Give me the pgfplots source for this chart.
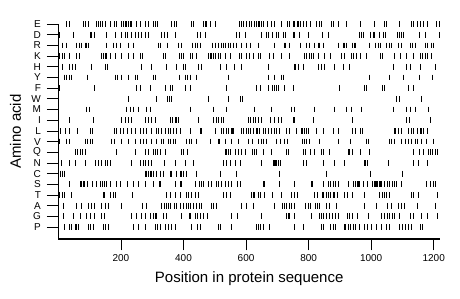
\documentclass[border=0pt]{standalone}
\usepackage{fontspec}
\setmainfont{Liberation Sans}
\usepackage{pgfplots}
\pgfplotsset{compat=1.18}
\begin{document}
\begin{tikzpicture}
\path (0,0) rectangle (460pt,299pt);
\begin{axis}[
 at={(58.4pt,60pt)}, anchor=south west,
 scale only axis, width=381.6pt, height=214.9pt,
 xmin=0, xmax=1220, ymin=-1.12, ymax=19,
 axis x line*=bottom, axis y line*=left,
 axis line style={line width=1.2pt, -},
 tick align=outside, major tick length=11.5pt,
 xtick style={draw=black, solid, line width=0.8pt},
 ytick style={draw=black, solid, line width=0.8pt},
 xtick={200,400,600,800,1000,1200},
 ytick={0,...,19},
 yticklabels={P,G,A,T,S,C,N,Q,V,L,I,M,W,F,Y,H,K,R,D,E},
 scaled ticks=false,
 clip=false,
 /pgf/number format/assume math mode=true,
 /pgf/number format/set thousands separator={},
 tick label style={font=\fontsize{10}{12}\selectfont},
 yticklabel style={xshift=-2.5pt},
 xlabel={Position in protein sequence}, ylabel={Amino acid},
 every axis x label/.style={at={(axis description cs:0.5,-0.2047)}, anchor=base, font=\fontsize{15}{18}\selectfont},
 every axis y label/.style={at={(axis description cs:-0.1127,0.5)}, anchor=center, rotate=90, font=\fontsize{15}{18}\selectfont},
 bars/.style={only marks, mark=|, mark size=2.9pt, mark options={line width=0.95pt, black}},
]
% E
\addplot[bars] coordinates {(26,19)(37,19)(80,19)(87,19)(96,19)(122,19)(127,19)(133,19)(140,19)(151,19)(165,19)(179,19)(186,19)(202,19)(207,19)(213,19)(218,19)(223,19)(229,19)(234,19)(250,19)(261,19)(277,19)(289,19)(303,19)(309,19)(316,19)(362,19)(370,19)(376,19)(426,19)(431,19)(463,19)(469,19)(474,19)(487,19)(501,19)(578,19)(586,19)(593,19)(602,19)(610,19)(617,19)(626,19)(633,19)(639,19)(644,19)(649,19)(655,19)(668,19)(681,19)(690,19)(713,19)(732,19)(740,19)(750,19)(756,19)(764,19)(769,19)(775,19)(782,19)(793,19)(807,19)(825,19)(836,19)(841,19)(873,19)(878,19)(894,19)(921,19)(966,19)(1012,19)(1041,19)(1049,19)(1092,19)(1129,19)(1134,19)(1147,19)(1156,19)(1166,19)(1179,19)(1209,19)(1217,19)};
% D
\addplot[bars] coordinates {(2,18)(48,18)(101,18)(106,18)(114,18)(154,18)(181,18)(202,18)(213,18)(220,18)(234,18)(245,18)(255,18)(266,18)(277,18)(287,18)(330,18)(338,18)(348,18)(373,18)(444,18)(453,18)(469,18)(570,18)(578,18)(597,18)(649,18)(665,18)(673,18)(683,18)(697,18)(703,18)(718,18)(726,18)(750,18)(756,18)(772,18)(798,18)(843,18)(862,18)(964,18)(969,18)(975,18)(998,18)(1007,18)(1012,18)(1026,18)(1038,18)(1047,18)(1083,18)(1090,18)(1097,18)(1102,18)(1153,18)(1175,18)(1217,18)};
% R
\addplot[bars] coordinates {(12,17)(26,17)(58,17)(66,17)(74,17)(85,17)(90,17)(96,17)(154,17)(175,17)(186,17)(197,17)(223,17)(239,17)(320,17)(325,17)(348,17)(384,17)(394,17)(429,17)(437,17)(444,17)(455,17)(493,17)(501,17)(511,17)(522,17)(527,17)(533,17)(543,17)(549,17)(559,17)(570,17)(586,17)(602,17)(615,17)(639,17)(692,17)(722,17)(726,17)(740,17)(775,17)(793,17)(804,17)(820,17)(830,17)(836,17)(846,17)(894,17)(910,17)(916,17)(921,17)(940,17)(945,17)(951,17)(996,17)(1015,17)(1022,17)(1030,17)(1049,17)(1060,17)(1065,17)(1086,17)(1097,17)(1124,17)(1132,17)(1143,17)(1172,17)(1179,17)(1193,17)(1200,17)};
% K
\addplot[bars] coordinates {(5,16)(12,16)(21,16)(37,16)(58,16)(66,16)(138,16)(143,16)(149,16)(154,16)(165,16)(181,16)(202,16)(223,16)(239,16)(261,16)(268,16)(336,16)(341,16)(387,16)(394,16)(400,16)(421,16)(429,16)(440,16)(479,16)(485,16)(490,16)(495,16)(501,16)(511,16)(519,16)(533,16)(549,16)(578,16)(586,16)(602,16)(612,16)(623,16)(639,16)(647,16)(676,16)(687,16)(713,16)(740,16)(786,16)(793,16)(804,16)(809,16)(814,16)(830,16)(852,16)(871,16)(905,16)(916,16)(937,16)(943,16)(953,16)(966,16)(985,16)(1030,16)(1036,16)(1073,16)(1094,16)(1113,16)(1134,16)(1156,16)(1164,16)(1172,16)(1179,16)(1193,16)};
% H
\addplot[bars] coordinates {(12,15)(37,15)(45,15)(53,15)(106,15)(149,15)(156,15)(266,15)(298,15)(346,15)(376,15)(400,15)(405,15)(447,15)(458,15)(517,15)(538,15)(562,15)(586,15)(673,15)(754,15)(758,15)(766,15)(782,15)(832,15)(841,15)(852,15)(884,15)(910,15)(930,15)(1070,15)(1113,15)(1126,15)(1156,15)(1204,15)};
% Y
\addplot[bars] coordinates {(19,14)(26,14)(37,14)(42,14)(93,14)(181,14)(189,14)(202,14)(223,14)(245,14)(253,14)(303,14)(309,14)(387,14)(405,14)(412,14)(421,14)(442,14)(543,14)(673,14)(692,14)(713,14)(718,14)(996,14)(1058,14)(1104,14)(1153,14)(1196,14)};
% F
\addplot[bars] coordinates {(2,13)(5,13)(115,13)(250,13)(261,13)(293,13)(341,13)(359,13)(365,13)(405,13)(421,13)(538,13)(633,13)(647,13)(673,13)(683,13)(692,13)(697,13)(703,13)(724,13)(750,13)(900,13)(980,13)(985,13)(1036,13)(1041,13)(1118,13)(1134,13)};
% W
\addplot[bars] coordinates {(223,12)(314,12)(348,12)(355,12)(362,12)(479,12)(543,12)(581,12)(589,12)(1081,12)(1090,12)(1161,12)};
% M
\addplot[bars] coordinates {(90,11)(98,11)(218,11)(229,11)(239,11)(255,11)(282,11)(293,11)(421,11)(495,11)(538,11)(626,11)(681,11)(745,11)(754,11)(818,11)(884,11)(921,11)(937,11)(969,11)(1070,11)(1113,11)(1124,11)(1140,11)(1182,11)};
% I
\addplot[bars] coordinates {(37,10)(111,10)(202,10)(213,10)(223,10)(234,10)(277,10)(287,10)(298,10)(309,10)(357,10)(365,10)(373,10)(378,10)(384,10)(447,10)(495,10)(506,10)(511,10)(522,10)(527,10)(607,10)(615,10)(623,10)(630,10)(639,10)(649,10)(679,10)(690,10)(705,10)(713,10)(750,10)(756,10)(814,10)(940,10)(1113,10)(1122,10)(1190,10)};
% L
\addplot[bars] coordinates {(8,9)(24,9)(37,9)(61,9)(101,9)(108,9)(179,9)(186,9)(200,9)(207,9)(221,9)(234,9)(245,9)(261,9)(271,9)(282,9)(298,9)(314,9)(320,9)(330,9)(341,9)(352,9)(357,9)(368,9)(378,9)(389,9)(421,9)(453,9)(458,9)(501,9)(522,9)(527,9)(538,9)(543,9)(554,9)(557,9)(561,9)(586,9)(591,9)(602,9)(607,9)(615,9)(623,9)(633,9)(636,9)(644,9)(655,9)(662,9)(671,9)(681,9)(690,9)(697,9)(708,9)(729,9)(740,9)(761,9)(777,9)(779,9)(786,9)(793,9)(800,9)(825,9)(849,9)(878,9)(896,9)(940,9)(951,9)(966,9)(972,9)(1073,9)(1079,9)(1086,9)(1097,9)(1118,9)(1129,9)(1136,9)(1147,9)(1156,9)(1161,9)(1166,9)(1179,9)};
% V
\addplot[bars] coordinates {(2,8)(5,8)(26,8)(37,8)(85,8)(93,8)(101,8)(108,8)(170,8)(178,8)(202,8)(223,8)(245,8)(261,8)(271,8)(282,8)(298,8)(314,8)(330,8)(336,8)(352,8)(359,8)(368,8)(373,8)(410,8)(419,8)(426,8)(442,8)(485,8)(511,8)(515,8)(533,8)(554,8)(575,8)(607,8)(619,8)(641,8)(649,8)(655,8)(665,8)(697,8)(711,8)(722,8)(732,8)(779,8)(786,8)(793,8)(804,8)(836,8)(894,8)(934,8)(985,8)(991,8)(1060,8)(1065,8)(1076,8)(1097,8)(1111,8)(1118,8)(1129,8)(1140,8)(1147,8)(1161,8)(1177,8)(1200,8)};
% Q
\addplot[bars] coordinates {(53,7)(61,7)(69,7)(76,7)(85,7)(186,7)(245,7)(277,7)(287,7)(303,7)(309,7)(316,7)(325,7)(341,7)(394,7)(400,7)(412,7)(533,7)(538,7)(543,7)(549,7)(565,7)(575,7)(586,7)(597,7)(619,7)(626,7)(633,7)(655,7)(681,7)(729,7)(737,7)(782,7)(790,7)(807,7)(820,7)(841,7)(846,7)(868,7)(927,7)(932,7)(940,7)(966,7)(996,7)(1136,7)(1153,7)(1168,7)(1182,7)(1190,7)(1196,7)(1204,7)(1211,7)};
% N
\addplot[bars] coordinates {(10,6)(37,6)(56,6)(85,6)(117,6)(127,6)(138,6)(149,6)(156,6)(165,6)(234,6)(261,6)(271,6)(279,6)(287,6)(298,6)(338,6)(373,6)(405,6)(431,6)(527,6)(536,6)(549,6)(565,6)(581,6)(649,6)(687,6)(690,6)(694,6)(697,6)(703,6)(711,6)(782,6)(793,6)(849,6)(884,6)(916,6)(977,6)(983,6)(987,6)(1054,6)(1134,6)(1150,6)(1179,6)};
% C
\addplot[bars] coordinates {(8,5)(12,5)(19,5)(277,5)(282,5)(287,5)(293,5)(298,5)(303,5)(314,5)(325,5)(336,5)(357,5)(362,5)(378,5)(389,5)(394,5)(400,5)(410,5)(442,5)(517,5)(570,5)(708,5)(857,5)(998,5)(1100,5)};
% S
\addplot[bars] coordinates {(37,4)(69,4)(74,4)(80,4)(83,4)(93,4)(108,4)(122,4)(133,4)(140,4)(147,4)(154,4)(165,4)(186,4)(200,4)(221,4)(239,4)(255,4)(277,4)(303,4)(323,4)(327,4)(373,4)(389,4)(394,4)(437,4)(451,4)(458,4)(463,4)(479,4)(490,4)(506,4)(511,4)(522,4)(533,4)(543,4)(554,4)(572,4)(581,4)(655,4)(660,4)(708,4)(756,4)(809,4)(812,4)(846,4)(862,4)(871,4)(878,4)(886,4)(894,4)(927,4)(943,4)(951,4)(955,4)(960,4)(964,4)(975,4)(987,4)(1004,4)(1009,4)(1013,4)(1017,4)(1021,4)(1026,4)(1030,4)(1034,4)(1044,4)(1051,4)(1060,4)(1068,4)(1073,4)(1081,4)(1097,4)(1177,4)(1188,4)(1198,4)(1204,4)};
% T
\addplot[bars] coordinates {(5,3)(12,3)(21,3)(42,3)(143,3)(147,3)(168,3)(175,3)(183,3)(236,3)(344,3)(359,3)(373,3)(389,3)(410,3)(415,3)(426,3)(437,3)(447,3)(527,3)(536,3)(549,3)(617,3)(623,3)(628,3)(639,3)(647,3)(658,3)(683,3)(713,3)(745,3)(754,3)(764,3)(820,3)(828,3)(843,3)(849,3)(857,3)(864,3)(871,3)(878,3)(884,3)(892,3)(916,3)(923,3)(940,3)(980,3)(1026,3)(1036,3)(1041,3)(1049,3)(1058,3)(1129,3)(1136,3)(1150,3)(1211,3)};
% A
\addplot[bars] coordinates {(16,2)(58,2)(74,2)(96,2)(106,2)(115,2)(138,2)(149,2)(159,2)(202,2)(268,2)(282,2)(330,2)(338,2)(344,2)(352,2)(359,2)(370,2)(378,2)(391,2)(400,2)(408,2)(415,2)(423,2)(431,2)(442,2)(451,2)(458,2)(490,2)(497,2)(506,2)(586,2)(600,2)(623,2)(690,2)(715,2)(722,2)(729,2)(740,2)(745,2)(756,2)(790,2)(798,2)(807,2)(822,2)(828,2)(836,2)(857,2)(868,2)(889,2)(977,2)(1017,2)(1051,2)(1065,2)(1086,2)(1097,2)(1108,2)(1147,2)(1204,2)};
% G
\addplot[bars] coordinates {(16,1)(48,1)(69,1)(90,1)(101,1)(115,1)(138,1)(147,1)(234,1)(250,1)(266,1)(279,1)(293,1)(303,1)(309,1)(314,1)(336,1)(346,1)(394,1)(419,1)(423,1)(437,1)(444,1)(453,1)(463,1)(476,1)(554,1)(572,1)(649,1)(729,1)(734,1)(740,1)(756,1)(809,1)(836,1)(841,1)(849,1)(857,1)(868,1)(875,1)(886,1)(894,1)(923,1)(930,1)(940,1)(955,1)(991,1)(1033,1)(1041,1)(1051,1)(1058,1)(1068,1)(1073,1)(1090,1)(1124,1)(1136,1)(1161,1)(1179,1)(1211,1)};
% P
\addplot[bars] coordinates {(21,0)(37,0)(42,0)(53,0)(58,0)(64,0)(96,0)(104,0)(111,0)(143,0)(151,0)(159,0)(239,0)(255,0)(277,0)(309,0)(316,0)(325,0)(341,0)(352,0)(362,0)(373,0)(426,0)(444,0)(453,0)(511,0)(517,0)(554,0)(633,0)(641,0)(647,0)(655,0)(676,0)(756,0)(782,0)(841,0)(849,0)(871,0)(878,0)(886,0)(916,0)(919,0)(927,0)(934,0)(943,0)(951,0)(964,0)(977,0)(987,0)(1001,0)(1017,0)(1033,0)(1049,0)(1060,0)(1092,0)(1100,0)(1111,0)(1118,0)(1129,0)(1156,0)(1164,0)};
\end{axis}
\end{tikzpicture}
\end{document}
